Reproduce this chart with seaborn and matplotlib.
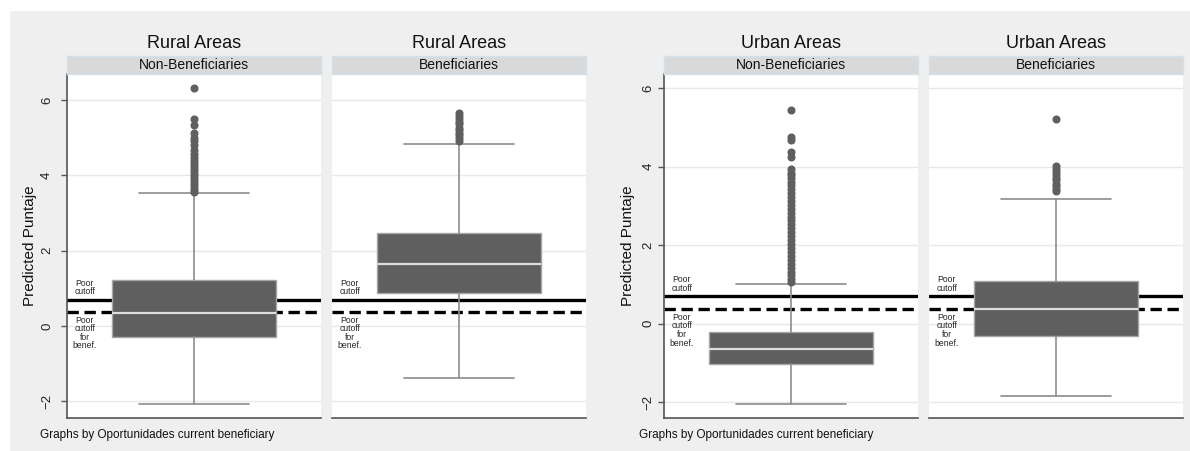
import numpy as np
import matplotlib
matplotlib.use("Agg")
import matplotlib.pyplot as plt
from matplotlib.patches import Rectangle
import seaborn as sns

# ---- data -------------------------------------------------------------
areas = ["Rural Areas", "Rural Areas", "Urban Areas", "Urban Areas"]
groups = ["Non-Beneficiaries", "Beneficiaries", "Non-Beneficiaries", "Beneficiaries"]

box_whislo = [-2.07, -1.38, -2.04, -1.84]
box_q1 = [-0.29, 0.88, -1.02, -0.31]
box_med = [0.35, 1.64, -0.64, 0.38]
box_q3 = [1.22, 2.47, -0.20, 1.10]
box_whishi = [3.53, 4.83, 1.02, 3.17]

rural_nonben_out = [6.31, 5.50, 5.33, 5.12, 5.00, 4.92, 4.80, 4.66, 4.58, 4.50,
                    4.42, 4.34, 4.26, 4.18, 4.10, 4.02, 3.94, 3.86, 3.78, 3.70,
                    3.62, 3.56]
rural_ben_out = [5.65, 5.57, 5.50, 5.42, 5.35, 5.27, 5.20, 5.13, 5.06, 4.99, 4.92]
urban_nonben_out = [5.44, 4.75, 4.67, 4.37, 4.24, 3.93, 3.85, 3.78, 3.70, 3.62,
                    3.53, 3.43, 3.33, 3.23, 3.13, 3.03, 2.93, 2.83, 2.73, 2.63,
                    2.53, 2.43, 2.33, 2.23, 2.13, 2.03, 1.93, 1.83, 1.73, 1.63,
                    1.53, 1.43, 1.33, 1.23, 1.13, 1.06]
urban_ben_out = [5.21, 4.02, 3.95, 3.87, 3.80, 3.72, 3.65, 3.57, 3.50, 3.43, 3.37]
outliers = [rural_nonben_out, rural_ben_out, urban_nonben_out, urban_ben_out]

poor_cutoff = 0.70
poor_cutoff_benef = 0.37

yticks = [-2, 0, 2, 4, 6]
ylims = [(-2.44, 6.69), (-2.44, 6.69), (-2.40, 6.36), (-2.40, 6.36)]

footer = "Graphs by Oportunidades current beneficiary"
ylabel = "Predicted Puntaje"

# ---- style ------------------------------------------------------------
sns.set_theme(style="white")
plt.rcParams["font.family"] = ["Liberation Sans", "DejaVu Sans"]

W, H = 1190, 451
fig = plt.figure(figsize=(W / 100, H / 100), dpi=100)
fig.patch.set_facecolor("white")
fig.add_artist(Rectangle((10 / W, 0), 1, (H - 11) / H, transform=fig.transFigure,
                         facecolor="#efefef", edgecolor="none", zorder=-10))


def fx(px):
    return px / W


def fy(py):
    return (H - py) / H


panel_left = [67, 332, 664, 929]
panel_w = 254
plot_top, plot_bot = 74, 418
strip_top = 56

box_fc = "#5f5f5f"
line_gray = "#8c8c8c"

for i in range(4):
    left = panel_left[i]
    ax = fig.add_axes([fx(left), fy(plot_bot), fx(panel_w), (plot_bot - plot_top) / H])
    ax.set_facecolor("white")

    stats = [dict(whislo=box_whislo[i], q1=box_q1[i], med=box_med[i],
                  q3=box_q3[i], whishi=box_whishi[i],
                  fliers=np.array(outliers[i]))]
    ax.bxp(stats, positions=[0.5], widths=[0.645], capwidths=[0.43],
           patch_artist=True, showfliers=True, zorder=3,
           boxprops=dict(facecolor=box_fc, edgecolor="#a5a5a5", linewidth=1.0),
           medianprops=dict(color="#dddddd", linewidth=1.6),
           whiskerprops=dict(color=line_gray, linewidth=1.2),
           capprops=dict(color=line_gray, linewidth=1.2),
           flierprops=dict(marker="o", markerfacecolor=box_fc,
                           markeredgecolor=box_fc, markersize=4.8))

    ax.axhline(poor_cutoff, color="black", lw=2.4, zorder=2)
    ax.axhline(poor_cutoff_benef, color="black", lw=2.4, ls=(0, (3.4, 1.7)), zorder=2)

    tr = ax.get_yaxis_transform()
    ax.text(0.07, poor_cutoff + 0.09, "Poor\ncutoff", transform=tr, ha="center",
            va="bottom", fontsize=6.2, linespacing=0.95, zorder=4)
    ax.text(0.07, poor_cutoff_benef - 0.09, "Poor\ncutoff\nfor\nbenef.", transform=tr,
            ha="center", va="top", fontsize=6.2, linespacing=0.95, zorder=4)

    ax.set_xlim(0, 1)
    ax.set_ylim(*ylims[i])
    ax.set_yticks(yticks)
    ax.set_xticks([])
    ax.yaxis.grid(True, color="#e8e8e8", lw=1.0, zorder=0)
    ax.set_axisbelow(True)

    for s in ["top", "right"]:
        ax.spines[s].set_visible(False)
    ax.spines["bottom"].set_color("#555555")
    ax.spines["bottom"].set_linewidth(1.2)
    if i % 2 == 0:
        ax.spines["left"].set_color("#555555")
        ax.spines["left"].set_linewidth(1.2)
        ax.tick_params(axis="y", which="both", left=True, length=4, width=1,
                       color="#555555", labelsize=9.5, pad=6 if i == 0 else 3,
                       labelcolor="#222222")
        for lab in ax.get_yticklabels():
            lab.set_rotation(90)
            lab.set_va("center")
    else:
        ax.spines["left"].set_visible(False)
        ax.tick_params(axis="y", left=False, labelleft=False)

    # strip header
    sax = fig.add_axes([fx(left), fy(plot_top), fx(panel_w), (plot_top - strip_top) / H])
    sax.set_facecolor("#d9d9d9")
    sax.set_xticks([])
    sax.set_yticks([])
    for s in sax.spines.values():
        s.set_color("#d5e1ea")
        s.set_linewidth(1.0)
    sax.text(0.5, 0.5, groups[i], ha="center", va="center", fontsize=10,
             color="#111111", transform=sax.transAxes)

    # panel title
    fig.text(fx(left + panel_w / 2), fy(44), areas[i], ha="center", va="center",
             fontsize=13, color="#111111")

# axis titles and notes for each combined graph
for lx, fx_note in [(30, 40), (628, 639)]:
    fig.text(fx(lx), fy((plot_top + plot_bot) / 2), ylabel, rotation=90,
             ha="center", va="center", fontsize=11, color="#111111")
    fig.text(fx(fx_note), fy(435), footer, ha="left", va="center",
             fontsize=8.5, color="#111111")

fig.savefig("out.png", dpi=100, facecolor=fig.get_facecolor())
